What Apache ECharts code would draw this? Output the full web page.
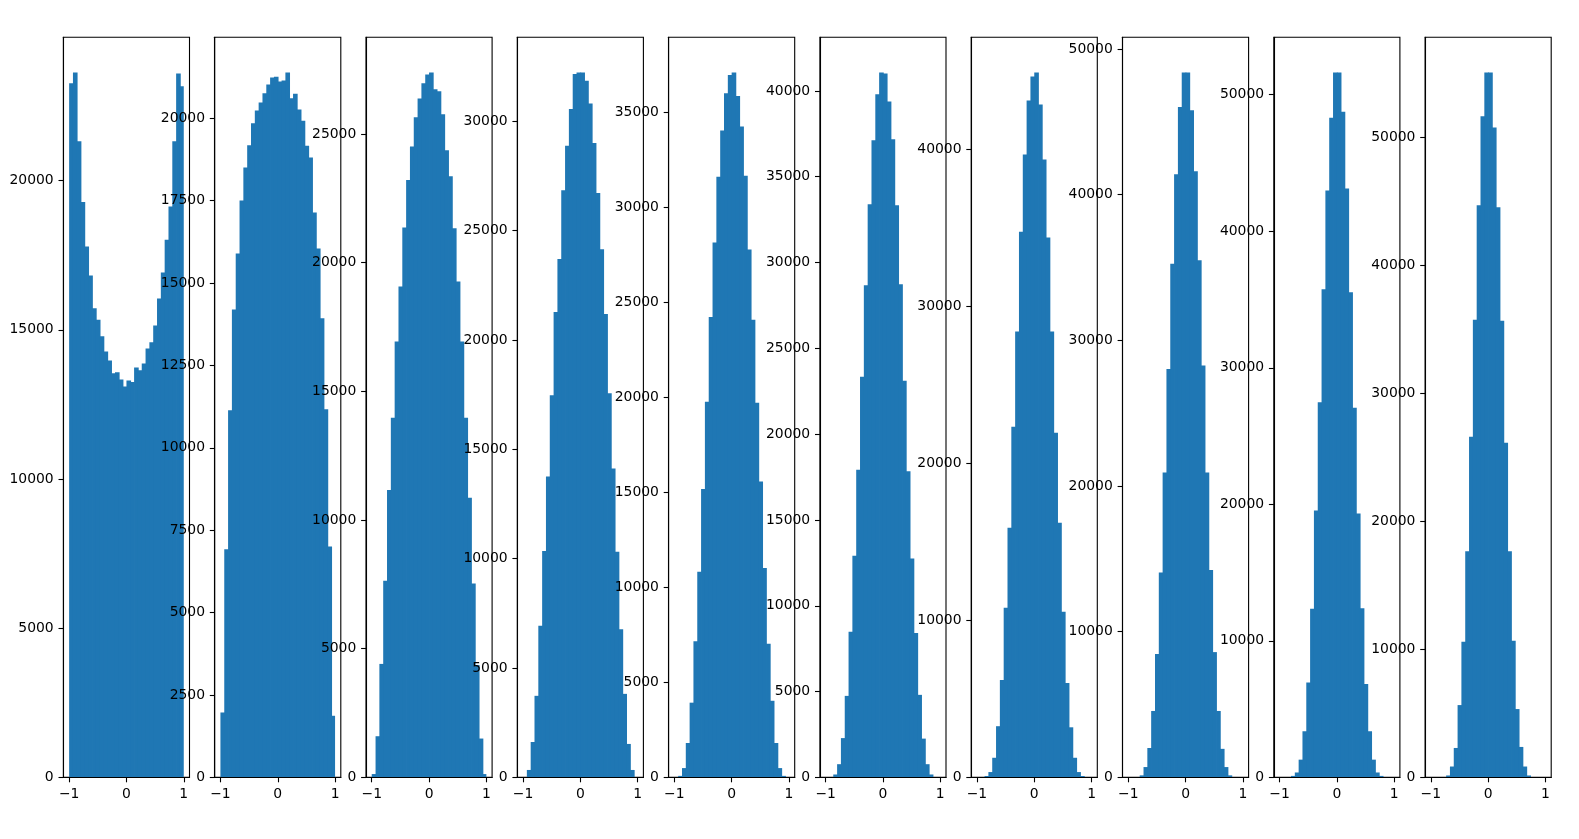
<!DOCTYPE html>
<html>
<head>
<meta charset="utf-8">
<script src="https://cdn.jsdelivr.net/npm/echarts@6/dist/echarts.min.js"></script>
<style>
  html, body { margin: 0; padding: 0; background: #fff; }
  #chart { width: 1579px; height: 839px; }
</style>
</head>
<body>
<div id="chart"></div>
<script>
// histogram counts, 30 bins each over [-1, 1]
var counts1 = [23260, 23620, 21320, 19280, 17790, 16820, 15720, 15340, 14780, 14270, 13970, 13540, 13580, 13330, 13100, 13300, 13250, 13740, 13640, 13870, 14370, 14580, 15140, 16050, 16920, 18020, 19130, 21320, 23590, 23160]
var counts2 = [1970, 6920, 11140, 14200, 15900, 17510, 18510, 19180, 19850, 20240, 20480, 20760, 21030, 21240, 21260, 21120, 21150, 21390, 20610, 20750, 20270, 19930, 19170, 18810, 17140, 16050, 13930, 11170, 7010, 1870]
var counts3 = [130, 1600, 4410, 7640, 11170, 13980, 16940, 19080, 21370, 23210, 24520, 25650, 26380, 26970, 27310, 27390, 26740, 26660, 25770, 24370, 23360, 21340, 19270, 16940, 13980, 10870, 7530, 4370, 1510, 130]
var counts4 = [10, 340, 1620, 3730, 6930, 10350, 13760, 17470, 21280, 23700, 26850, 28880, 30560, 32160, 32230, 32230, 31850, 30810, 29010, 26720, 24150, 21190, 17560, 14120, 10320, 6770, 3820, 1530, 340, 10]
var counts5 = [5, 80, 490, 1810, 3930, 7160, 10810, 15170, 19750, 24220, 28130, 31590, 34020, 35980, 36940, 37070, 35830, 34230, 31640, 27760, 24070, 19700, 15560, 11010, 7030, 4030, 1810, 490, 80, 5]
var counts6 = [0, 10, 170, 770, 2290, 4750, 8480, 12920, 17930, 23340, 28670, 33390, 37120, 39810, 41070, 41010, 39380, 37180, 33340, 28730, 23110, 17840, 12750, 8420, 4810, 2260, 770, 170, 10, 0]
var counts7 = [0, 10, 90, 340, 1250, 3260, 6200, 10800, 15900, 22320, 28390, 34740, 39660, 43100, 44630, 44880, 42850, 39340, 34370, 28390, 21940, 16210, 10550, 6010, 3190, 1250, 340, 90, 10, 0]
var counts8 = [0, 0, 10, 140, 710, 2020, 4560, 8470, 14070, 20920, 28040, 35260, 41400, 46020, 48380, 48380, 45790, 41600, 35490, 28270, 20920, 14240, 8600, 4560, 1960, 710, 140, 10, 0, 0]
var counts9 = [0, 0, 10, 110, 360, 1300, 3380, 6950, 12350, 19550, 27470, 35750, 42980, 48310, 51620, 51620, 48740, 43130, 35530, 27070, 19330, 12380, 6840, 3380, 1300, 360, 110, 10, 0, 0]
var counts10 = [0, 0, 0, 10, 150, 850, 2300, 5650, 10600, 17660, 26610, 35750, 44700, 51650, 55070, 55070, 50770, 44540, 35670, 26150, 17660, 10680, 5340, 2380, 850, 150, 10, 0, 0, 0]

// y tick labels per panel
var yTicks1 = [0, 5000, 10000, 15000, 20000]
var yTicks2 = [0, 2500, 5000, 7500, 10000, 12500, 15000, 17500, 20000]
var yTicks3 = [0, 5000, 10000, 15000, 20000, 25000]
var yTicks4 = [0, 5000, 10000, 15000, 20000, 25000, 30000]
var yTicks5 = [0, 5000, 10000, 15000, 20000, 25000, 30000, 35000]
var yTicks6 = [0, 5000, 10000, 15000, 20000, 25000, 30000, 35000, 40000]
var yTicks7 = [0, 10000, 20000, 30000, 40000]
var yTicks8 = [0, 10000, 20000, 30000, 40000, 50000]
var yTicks9 = [0, 10000, 20000, 30000, 40000, 50000]
var yTicks10 = [0, 10000, 20000, 30000, 40000, 50000]

var xTicks = [-1, 0, 1]
var binRange = [-1, 1]

var panels = [
  [counts1, yTicks1], [counts2, yTicks2], [counts3, yTicks3], [counts4, yTicks4], [counts5, yTicks5],
  [counts6, yTicks6], [counts7, yTicks7], [counts8, yTicks8], [counts9, yTicks9], [counts10, yTicks10]
]

var BLUE = '#1f77b4'
var FONT = 'DejaVu Sans'
var LEFT0 = 63.4, STEP = 151.3, W = 126.1, TOP = 37.3, H = 740.1

var chart = echarts.init(document.getElementById('chart'))

var grids = [], xAxes = [], yAxes = [], series = []

panels.forEach(function (p, i) {
  var counts = p[0], ticks = p[1]
  var n = counts.length
  var bw = (binRange[1] - binRange[0]) / n
  var data = counts.map(function (c, k) {
    return [binRange[0] + k * bw, binRange[0] + (k + 1) * bw, c, k === n - 1 ? 0 : 1]
  })

  grids.push({
    left: LEFT0 + i * STEP, top: TOP, width: W, height: H,
    show: true, borderColor: '#000', borderWidth: 1.1, backgroundColor: 'transparent'
  })

  xAxes.push({
    type: 'value', gridIndex: i, min: -1.1, max: 1.1, z: 5,
    axisLine: { show: true, onZero: false, lineStyle: { color: '#000', width: 1.1 } },
    axisTick: { show: true, length: 4.9, lineStyle: { color: '#000', width: 1.1 }, customValues: xTicks },
    axisLabel: {
      customValues: xTicks, margin: 9.7, color: '#000', fontFamily: FONT, fontSize: 13.9,
      formatter: function (v) { return String(v).replace('-', '\u2212') }
    },
    splitLine: { show: false }
  })

  yAxes.push({
    type: 'value', gridIndex: i, min: 0, max: Math.max.apply(null, counts) * 1.05, z: 5,
    axisLine: { show: true, onZero: false, lineStyle: { color: '#000', width: 1.1 } },
    axisTick: { show: true, length: 4.9, lineStyle: { color: '#000', width: 1.1 }, customValues: ticks },
    axisLabel: {
      customValues: ticks, margin: 9.7, color: '#000', fontFamily: FONT, fontSize: 13.9,
      formatter: function (v) { return String(v) }
    },
    splitLine: { show: false }
  })

  series.push({
    type: 'custom', xAxisIndex: i, yAxisIndex: i, data: data, silent: true,
    renderItem: function (params, api) {
      var h = api.value(2)
      if (!h) return null
      var a = api.coord([api.value(0), 0])
      var b = api.coord([api.value(1), h])
      // overlap the next bin slightly so no seam shows between bars
      var extra = api.value(3) ? 0.8 : 0
      return {
        type: 'rect',
        shape: { x: a[0], y: b[1], width: b[0] - a[0] + extra, height: a[1] - b[1] },
        style: { fill: BLUE }
      }
    }
  })
})

chart.setOption({
  animation: false,
  backgroundColor: '#fff',
  grid: grids,
  xAxis: xAxes,
  yAxis: yAxes,
  series: series
})
</script>
</body>
</html>
